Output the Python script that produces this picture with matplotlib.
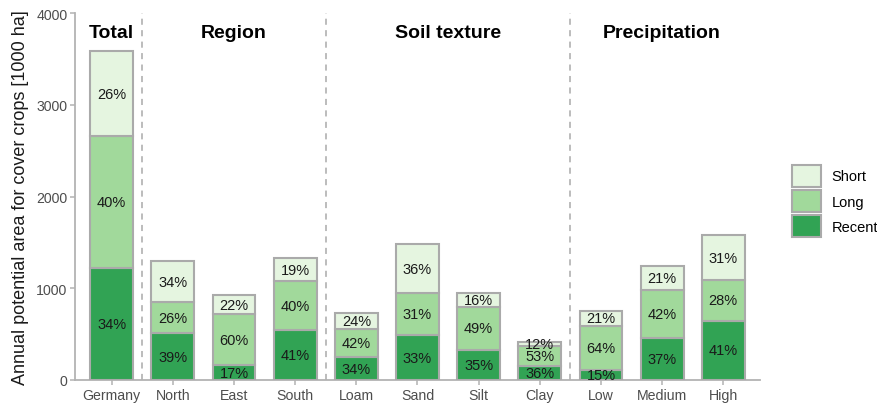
import matplotlib.pyplot as plt
import numpy as np
from matplotlib.patches import Patch

plt.rcParams['font.family'] = ['Liberation Sans', 'DejaVu Sans']

# area per category and cover crop type, 1000 ha
categories = ["Germany", "North", "East", "South", "Loam", "Sand", "Silt",
              "Clay", "Low", "Medium", "High"]
recent = [1220, 510, 159, 545, 248, 489, 332, 148, 113, 460, 648]
long_ = [1435, 340, 560, 532, 307, 459, 465, 218, 481, 522, 442]
short = [932, 446, 207, 253, 175, 534, 152, 49, 158, 261, 490]

groups = ["Total", "Region", "Soil texture", "Precipitation"]
group_members = [["Germany"], ["North", "East", "South"],
                 ["Loam", "Sand", "Silt", "Clay"], ["Low", "Medium", "High"]]

series = [("Recent", recent, "#31a354"),
          ("Long", long_, "#a1d99b"),
          ("Short", short, "#e5f5e0")]

EDGE = "#aaaaaa"
AXIS = "#b3b3b3"

fig = plt.figure(figsize=(8.78, 4.06), dpi=100)
ax = fig.add_axes([75 / 878, 1 - 381 / 406, 685 / 878, 367 / 406])

x = np.arange(len(categories))
totals = np.array(recent) + np.array(long_) + np.array(short)
bottom = np.zeros(len(categories))
for name, vals, col in series:
    vals = np.array(vals, dtype=float)
    ax.bar(x, vals, bottom=bottom, width=0.7, color=col, edgecolor=EDGE,
           linewidth=1.5, zorder=3)
    for xi, b, v, t in zip(x, bottom, vals, totals):
        ax.text(xi, b + v / 2, f"{100 * v / t:.0f}%", ha="center",
                va="center", fontsize=10.5, color="#1a1a1a", zorder=4)
    bottom += vals

# dashed separators and group headings
pos = {c: i for i, c in enumerate(categories)}
for i, (g, members) in enumerate(zip(groups, group_members)):
    idx = [pos[m] for m in members]
    ax.text(np.mean(idx), 3790, g, ha="center", va="center",
            fontsize=14, fontweight="bold", color="black")
    if i > 0:
        ax.axvline(idx[0] - 0.5, color=EDGE, linestyle=(0, (4, 3.5)),
                   linewidth=1.1, zorder=1)

ax.set_xlim(-0.6, len(categories) - 0.4)
ax.set_ylim(0, 4000)
ax.set_xticks(x)
ax.set_xticklabels(categories)
ax.set_yticks([0, 1000, 2000, 3000, 4000])
ax.set_ylabel("Annual potential area for cover crops [1000 ha]",
              fontsize=13, color="#1a1a1a", labelpad=5)

for side in ["top", "right"]:
    ax.spines[side].set_visible(False)
for side in ["left", "bottom"]:
    ax.spines[side].set_color(AXIS)
    ax.spines[side].set_linewidth(1.3)
ax.tick_params(colors=AXIS, labelcolor="#4d4d4d", labelsize=10.2,
               length=3.5, width=1.1, pad=2)

handles = [Patch(facecolor=col, edgecolor=EDGE, linewidth=1.5, label=name)
           for name, _, col in reversed(series)]
fig.legend(handles=handles, loc="center left",
           bbox_to_anchor=(792 / 878, 1 - 202 / 406), frameon=False,
           fontsize=10.5, handlelength=2.0, handleheight=1.9,
           labelspacing=0.25, handletextpad=0.7, borderpad=0,
           borderaxespad=0)

fig.savefig("out.png", dpi=100)
